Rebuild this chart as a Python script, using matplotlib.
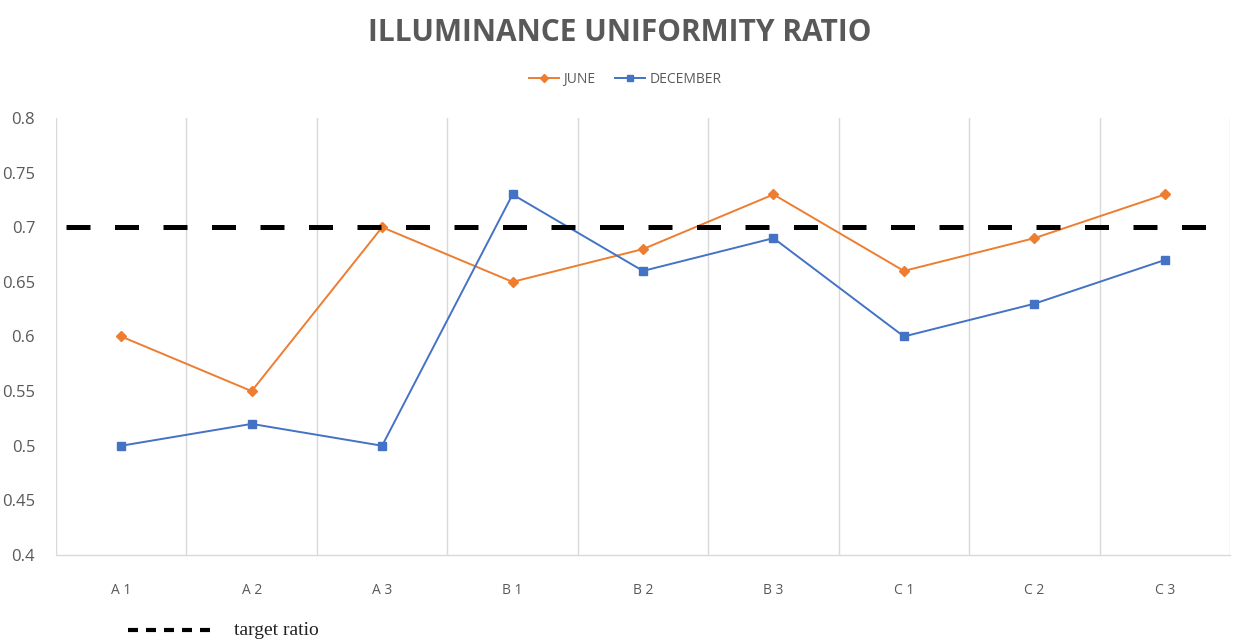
import matplotlib
matplotlib.use("Agg")
import matplotlib.pyplot as plt
from matplotlib.lines import Line2D
import numpy as np

# Data
locations = ["A1", "A2", "A3", "B1", "B2", "B3", "C1", "C2", "C3"]
june = [0.60, 0.55, 0.70, 0.65, 0.68, 0.73, 0.66, 0.69, 0.73]
december = [0.50, 0.52, 0.50, 0.73, 0.66, 0.69, 0.60, 0.63, 0.67]
target_ratio = 0.70
y_ticks = [0.4, 0.45, 0.5, 0.55, 0.6, 0.65, 0.7, 0.75, 0.8]
y_tick_labels = ["0.4", "0.45", "0.5", "0.55", "0.6", "0.65", "0.7", "0.75", "0.8"]

ORANGE = "#ED7D31"
BLUE = "#4472C4"
TEXT = "#595959"
GRID = "#D9D9D9"

plt.rcParams["font.family"] = ["Open Sans", "DejaVu Sans"]

fig = plt.figure(figsize=(12.33, 6.44), dpi=100)
ax = fig.add_axes([0.0454, 0.1382, 0.9522, 0.6786])

x = np.arange(len(locations))

# Category boundary gridlines
ax.set_xlim(-0.5, len(locations) - 0.5)
ax.set_ylim(0.4, 0.8)
ax.set_xticks(x)
ax.set_xticklabels([" ".join(s) for s in locations])
ax.set_xticks(np.arange(-0.5, len(locations), 1.0), minor=True)
ax.grid(True, which="minor", axis="x", color=GRID, linewidth=1.0)
ax.tick_params(axis="x", which="both", length=0, colors=TEXT, labelsize=10, pad=20)
ax.set_yticks(y_ticks)
ax.set_yticklabels(y_tick_labels)
ax.tick_params(axis="y", length=0, colors=TEXT, labelsize=12, pad=15)

for side in ["top", "right", "left"]:
    ax.spines[side].set_visible(False)
ax.spines["bottom"].set_color(GRID)
ax.spines["bottom"].set_linewidth(1.0)

# Series
ax.plot(x, june, color=ORANGE, linewidth=1.4, marker="D", markersize=5.5,
        label="JUNE", zorder=3)
ax.plot(x, december, color=BLUE, linewidth=1.4, marker="s", markersize=6,
        label="DECEMBER", zorder=3)

# Target ratio reference line
tline = ax.axhline(target_ratio, xmin=0.0085, xmax=1.0, color="black",
                   linewidth=3.6, zorder=4)
tline.set_dashes([4.8, 4.9])
tline.set_dash_capstyle("butt")

# Title and legend
fig.text(0.503, 0.948, "ILLUMINANCE UNIFORMITY RATIO", ha="center", va="center",
         fontsize=21.5, fontweight="bold", color=TEXT)
leg = fig.legend(loc="center", bbox_to_anchor=(0.507, 0.877), ncol=2, frameon=False,
                 fontsize=10, handlelength=2.2, handletextpad=0.3, columnspacing=1.4,
                 markerscale=0.75)
for t in leg.get_texts():
    t.set_color(TEXT)

# Bottom key for the target line
key = Line2D([0.104, 0.171], [0.021, 0.021], transform=fig.transFigure,
             color="black", linewidth=3.0)
key.set_dashes([2.4, 1.92])
key.set_dash_capstyle("butt")
fig.add_artist(key)
fig.text(0.19, 0.021, "target ratio", ha="left", va="center", fontsize=14,
         family=["Liberation Serif"], color="#222222")

fig.savefig("out.png", dpi=100)
